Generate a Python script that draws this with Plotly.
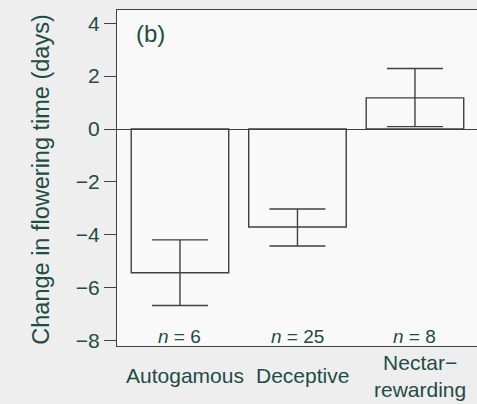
import plotly.graph_objects as go

categories = ["Autogamous", "Deceptive", "Nectar−<br>rewarding"]
means = [-5.43, -3.70, 1.18]
err_plus = [1.24, 0.68, 1.11]
err_minus = [1.24, 0.72, 1.09]
n_labels = ["6", "25", "8"]
y_ticks = [4, 2, 0, -2, -4, -6, -8]

TXT = "#1d4d45"
LINE = "#404040"
FONT = "Liberation Sans, Arial, sans-serif"

xs = list(range(len(categories)))

fig = go.Figure()
fig.add_trace(go.Bar(
    x=xs, y=means, width=0.83,
    marker=dict(color="rgba(0,0,0,0)", line=dict(color=LINE, width=1.4)),
    error_y=dict(type="data", symmetric=False, array=err_plus, arrayminus=err_minus,
                 color=LINE, thickness=1.4, width=28),
    showlegend=False, hoverinfo="skip",
))

annotations = []
for i, c in enumerate(categories):
    annotations.append(dict(x=i, y=-0.089, xref="x", yref="paper", text=c,
                            showarrow=False, xanchor="center", yanchor="middle",
                            xshift=5, font=dict(family=FONT, size=21, color=TXT)))
    annotations.append(dict(x=i, y=-7.85, xref="x", yref="y",
                            text="<i>n</i> = " + n_labels[i], showarrow=False,
                            xanchor="center", yanchor="middle",
                            font=dict(family=FONT, size=19, color=TXT)))
annotations.append(dict(x=0.092, y=0.93, xref="paper", yref="paper", text="(b)",
                        showarrow=False, xanchor="center", yanchor="middle",
                        font=dict(family=FONT, size=24, color=TXT)))
annotations.append(dict(x=-0.211, y=0.495, xref="paper", yref="paper",
                        text="Change in flowering time (days)", textangle=-90,
                        showarrow=False, xanchor="center", yanchor="middle",
                        font=dict(family=FONT, size=23.5, color=TXT)))

fig.update_layout(
    width=477, height=404,
    margin=dict(l=117, r=0, t=10, b=58),
    paper_bgcolor="#eeeeee", plot_bgcolor="#f9f9f9",
    font=dict(family=FONT, color=TXT),
    annotations=annotations,
    xaxis=dict(range=[-0.536, 2.528], showticklabels=False, ticks="",
               showgrid=False, zeroline=False, showline=True, linecolor=LINE,
               linewidth=1.4, mirror=True, fixedrange=True),
    yaxis=dict(range=[-8.2, 4.5], tickvals=y_ticks, ticks="outside", ticklen=12,
               tickcolor=LINE, tickwidth=1.4, ticklabelstandoff=0,
               tickfont=dict(family=FONT, size=21, color=TXT),
               showgrid=False, zeroline=True, zerolinecolor=LINE, zerolinewidth=1.4,
               showline=True, linecolor=LINE, linewidth=1.4, mirror=False,
               fixedrange=True),
)

fig.write_html("out.html")
